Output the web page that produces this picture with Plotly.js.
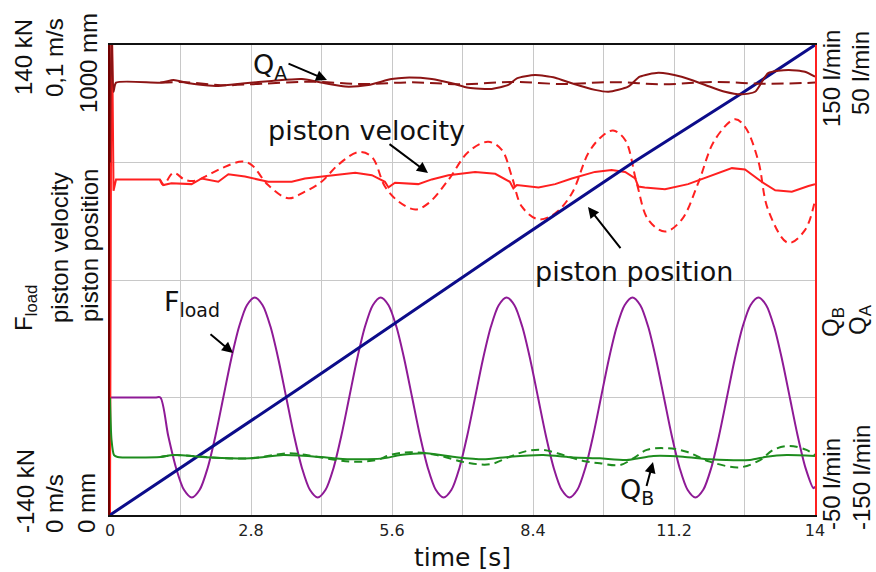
<!DOCTYPE html>
<html>
<head>
<meta charset="utf-8">
<script src="https://cdn.plot.ly/plotly-3.0.1.min.js"></script>
<style>html,body{margin:0;padding:0;background:#fff;}#chart{width:876px;height:572px;}</style>
</head>
<body>
<div id="chart"></div>
<script>
// ---- data ----
var xTickVals = [0, 2.8, 5.6, 8.4, 11.2, 14];
var xTickText = ['0', '2.8', '5.6', '8.4', '11.2', '14'];

// piston position [mm]
var tPos = [0, 3.77, 7.84, 10.37, 12.54, 14];
var posMM = [0, 270, 567, 749, 897, 1000];

// load force [kN]
var tF = [0, 0.9, 1.0,
  1.156, 1.313, 1.469, 1.625, 1.781, 1.938, 2.094, 2.25, 2.406, 2.563, 2.719, 2.875, 3.031, 3.188, 3.344, 3.5,
  3.656, 3.813, 3.969, 4.125, 4.281, 4.438, 4.594, 4.75, 4.906, 5.063, 5.219, 5.375, 5.531, 5.688, 5.844, 6.0,
  6.156, 6.313, 6.469, 6.625, 6.781, 6.938, 7.094, 7.25, 7.406, 7.563, 7.719, 7.875, 8.031, 8.188, 8.344, 8.5,
  8.656, 8.813, 8.969, 9.125, 9.281, 9.438, 9.594, 9.75, 9.906, 10.063, 10.219, 10.375, 10.531, 10.688, 10.844, 11.0,
  11.156, 11.313, 11.469, 11.625, 11.781, 11.938, 12.094, 12.25, 12.406, 12.563, 12.719, 12.875, 13.031, 13.188, 13.344, 13.5,
  13.656, 13.813, 13.969, 14.0];
var fLoad = [-70, -70, -70,
  -92.8, -112.1, -125, -129.6, -125, -112.1, -92.8, -70, -47.2, -27.9, -15, -10.4, -15, -27.9, -47.2, -70,
  -92.8, -112.1, -125, -129.6, -125, -112.1, -92.8, -70, -47.2, -27.9, -15, -10.4, -15, -27.9, -47.2, -70,
  -92.8, -112.1, -125, -129.6, -125, -112.1, -92.8, -70, -47.2, -27.9, -15, -10.4, -15, -27.9, -47.2, -70,
  -92.8, -112.1, -125, -129.6, -125, -112.1, -92.8, -70, -47.2, -27.9, -15, -10.4, -15, -27.9, -47.2, -70,
  -92.8, -112.1, -125, -129.6, -125, -112.1, -92.8, -70, -47.2, -27.9, -15, -10.4, -15, -27.9, -47.2, -70,
  -92.8, -112.1, -124, -123];

// piston velocity [m/s], solid
var tVel = [0, 0.03, 0.07, 0.12, 0.99, 1.06, 1.22, 1.62, 1.82, 2.15, 2.35, 2.68, 3.14, 3.61, 3.87, 4.20, 4.53, 4.87, 5.20, 5.46, 5.53, 5.66, 6.12, 6.39, 6.72, 7.05, 7.25, 7.65, 7.94, 8.01, 8.08, 8.51, 8.84, 9.17, 9.63, 9.96, 10.23, 10.43, 10.49, 10.62, 11.02, 11.48, 11.88, 12.35, 12.61, 12.94, 13.21, 13.54, 13.87, 14.0];
var vel = [0, 0.115, 0.069, 0.0714, 0.0714, 0.0702, 0.0706, 0.0704, 0.0716, 0.0709, 0.0725, 0.0720, 0.0709, 0.0709, 0.0716, 0.0720, 0.0723, 0.0728, 0.0723, 0.0709, 0.0697, 0.0707, 0.0704, 0.0714, 0.0723, 0.0727, 0.0730, 0.0726, 0.0709, 0.0695, 0.0702, 0.0697, 0.0704, 0.0716, 0.0730, 0.0734, 0.0730, 0.0716, 0.0699, 0.0697, 0.0693, 0.0704, 0.0720, 0.0738, 0.0735, 0.0709, 0.0691, 0.0688, 0.0700, 0.0704];

// piston velocity [m/s], dashed
var tVelD = [0.99, 1.06, 1.26, 1.49, 1.69, 1.89, 2.22, 2.62, 2.81, 3.14, 3.54, 3.87, 4.20, 4.53, 4.93, 5.20, 5.46, 5.73, 6.06, 6.32, 6.72, 7.12, 7.51, 7.78, 7.98, 8.18, 8.51, 8.84, 9.17, 9.50, 9.76, 9.99, 10.23, 10.46, 10.69, 11.02, 11.35, 11.68, 12.01, 12.41, 12.61, 12.87, 13.07, 13.47, 13.80, 14.0];
var velD = [0.0714, 0.0702, 0.0728, 0.0713, 0.0711, 0.0720, 0.0738, 0.0752, 0.0745, 0.0702, 0.0674, 0.0688, 0.0709, 0.0745, 0.0772, 0.0762, 0.0699, 0.0667, 0.0650, 0.0663, 0.0713, 0.0773, 0.0794, 0.0777, 0.0720, 0.0656, 0.0629, 0.0642, 0.0684, 0.0770, 0.0805, 0.0818, 0.0798, 0.0706, 0.0628, 0.0603, 0.0628, 0.0706, 0.0798, 0.0842, 0.0826, 0.0755, 0.0649, 0.0579, 0.0606, 0.0670];

// Q_A [l/min], solid
var tQA = [0, 0.03, 0.07, 0.12, 1.03, 1.26, 1.56, 2.15, 2.68, 3.21, 3.81, 4.27, 4.67, 5.13, 5.59, 5.86, 6.39, 6.79, 7.12, 7.58, 7.91, 8.08, 8.44, 8.84, 9.17, 9.63, 9.90, 10.29, 10.52, 10.89, 11.35, 11.82, 12.21, 12.54, 12.81, 13.07, 13.47, 13.80, 14.0];
var qA = [0, 60, 30, 34.0, 34.0, 35.1, 33.7, 32.6, 33.7, 34.7, 35.5, 33.7, 32.3, 33.0, 35.5, 36.1, 35.5, 33.7, 31.8, 31.3, 33.0, 35.8, 37.2, 36.1, 33.7, 30.9, 30.1, 32.3, 36.5, 38.2, 36.5, 33.0, 30.1, 29.0, 30.1, 38.0, 39.4, 38.6, 36.5];

// Q_A [l/min], dashed
var tQAD = [1.0, 1.5, 2.2, 3.0, 4.0, 5.0, 6.0, 7.0, 8.0, 9.0, 10.0, 11.0, 12.0, 13.0, 14.0];
var qAD = [34.0, 34.2, 32.9, 33.5, 34.4, 33.4, 34.1, 33.3, 34.3, 33.4, 34.2, 33.3, 34.3, 33.5, 34.0];

// Q_B [l/min], solid
var tQB = [0, 0.03, 0.08, 0.15, 1.0, 1.26, 2.0, 2.78, 3.44, 4.10, 4.77, 5.43, 5.76, 6.29, 6.88, 7.41, 7.94, 8.60, 9.2, 9.73, 10.26, 10.79, 11.38, 11.91, 12.71, 13.04, 13.44, 14.0];
var qB = [0, -18, -24.5, -25.3, -25.3, -24.5, -25.5, -25.9, -24.5, -25.2, -26.3, -25.9, -24.5, -23.7, -25.4, -26.3, -25.2, -24.5, -25.5, -25.9, -26.6, -24.9, -25.2, -26.3, -26.6, -25.2, -24.5, -24.9];

// Q_B [l/min], dashed
var tQBD = [1.0, 1.3, 2.0, 2.78, 3.57, 4.10, 4.77, 5.30, 5.56, 5.96, 6.49, 7.08, 7.55, 7.94, 8.27, 8.60, 9.0, 9.4, 9.73, 10.13, 10.39, 10.66, 11.06, 11.45, 11.91, 12.51, 12.91, 13.17, 13.50, 13.83, 14.0];
var qBD = [-25.3, -24.5, -25.5, -25.9, -23.7, -25.2, -27.3, -26.6, -24.5, -23.3, -24.5, -27.7, -28.4, -25.2, -22.8, -22.3, -24.5, -27.0, -28.0, -28.7, -25.9, -22.3, -21.6, -23.1, -27.3, -29.7, -26.6, -22.3, -20.6, -22.3, -24.5];

// ---- styling ----
var C_QA = '#8c1414', C_VEL = '#ff2020', C_POS = '#0c0c8a', C_F = '#8e1a96', C_QB = '#1e8c1e';

var traces = [
  {x: tQBD, y: qBD, yaxis: 'y4', mode: 'lines', line: {color: C_QB, width: 2, dash: '8px,5px', shape: 'spline'}},
  {x: tQB, y: qB, yaxis: 'y4', mode: 'lines', line: {color: C_QB, width: 2, shape: 'spline', smoothing: 0.6}},
  {x: tQAD, y: qAD, yaxis: 'y5', mode: 'lines', line: {color: C_QA, width: 2, dash: '12px,6px', shape: 'spline'}},
  {x: tQA, y: qA, yaxis: 'y5', mode: 'lines', line: {color: C_QA, width: 2, shape: 'spline', smoothing: 0.6}},
  {x: tVelD, y: velD, yaxis: 'y2', mode: 'lines', line: {color: C_VEL, width: 2, dash: '8px,5px', shape: 'spline'}},
  {x: tVel, y: vel, yaxis: 'y2', mode: 'lines', line: {color: C_VEL, width: 2}},
  {x: tF, y: fLoad, yaxis: 'y', mode: 'lines', line: {color: C_F, width: 2, shape: 'spline', smoothing: 0.8}},
  {x: tPos, y: posMM, yaxis: 'y3', mode: 'lines', line: {color: C_POS, width: 3}}
];

// pixel -> paper helpers (plot area 110..815 x 45..515)
function px(x) { return (x - 110) / 705; }
function py(y) { return (515 - y) / 470; }

var LBL = {family: 'Liberation Sans, Arial, sans-serif', size: 24, color: '#111'};
var TXT = {family: 'DejaVu Sans, sans-serif', size: 27, color: '#111'};

function rot(text, x, y) {
  return {text: text, x: px(x), y: py(y), xref: 'paper', yref: 'paper', showarrow: false,
          textangle: -90, font: LBL, xanchor: 'center', yanchor: 'middle'};
}
function txt(text, x, y, size) {
  var f = {family: TXT.family, size: size || TXT.size, color: TXT.color};
  return {text: text, x: px(x), y: py(y), xref: 'paper', yref: 'paper', showarrow: false,
          font: f, xanchor: 'center', yanchor: 'middle'};
}
function arrow(hx, hy, tx, ty) {
  return {text: ' ', x: px(hx), y: py(hy), xref: 'paper', yref: 'paper', showarrow: true,
          ax: tx - hx, ay: ty - hy, arrowhead: 2, arrowsize: 1.1, arrowwidth: 2, arrowcolor: '#000',
          font: {size: 1}};
}

var annotations = [
  rot('140 kN', 23, 57), rot('0,1 m/s', 55, 58), rot('1000 mm', 88, 63),
  rot('-140 kN', 25, 491), rot('0 m/s', 54, 504), rot('0 mm', 86, 503),
  rot('F<sub>load</sub>', 25, 308), rot('piston velocity', 59, 248), rot('piston position', 89, 246),
  rot('150 l/min', 831, 79), rot('50 l/min', 861, 73),
  rot('-50 l/min', 831, 484), rot('-150 l/min', 861, 478),
  rot('Q<sub>B</sub>', 832, 322), rot('Q<sub>A</sub>', 859, 320),
  txt('Q<sub>A</sub>', 270, 66, 27),
  txt('piston velocity', 366, 130),
  txt('piston position', 634, 271),
  txt('F<sub>load</sub>', 192, 303, 27),
  txt('Q<sub>B</sub>', 637, 491, 27),
  arrow(327, 80, 287, 63),
  arrow(428, 173, 388, 143),
  arrow(588, 207, 622, 250),
  arrow(233, 353, 209, 333),
  arrow(653, 462, 646, 488)
];

var layout = {
  width: 876, height: 572,
  margin: {l: 110, r: 61, t: 45, b: 57},
  paper_bgcolor: '#fff', plot_bgcolor: '#fff',
  showlegend: false,
  xaxis: {
    range: [0, 14], tickmode: 'array', tickvals: xTickVals, ticktext: xTickText,
    showgrid: true, gridcolor: '#c8c8c8', gridwidth: 1, zeroline: false,
    minor: {tickmode: 'linear', tick0: 0, dtick: 1.4, showgrid: true, gridcolor: '#c8c8c8', gridwidth: 1, ticks: ''},
    ticks: '', showline: true, linecolor: '#111', linewidth: 2, mirror: true,
    tickfont: {family: 'DejaVu Sans, sans-serif', size: 16, color: '#222'},
    title: {text: 'time [s]', font: {family: 'DejaVu Sans, sans-serif', size: 25, color: '#111'}, standoff: 10}
  },
  yaxis: {
    range: [-140, 140], tickmode: 'linear', tick0: -140, dtick: 70,
    showgrid: true, gridcolor: '#c8c8c8', gridwidth: 1, zeroline: false,
    showticklabels: false, ticks: '', showline: true, linecolor: '#700000', linewidth: 2
  },
  yaxis2: {overlaying: 'y', range: [0, 0.1], visible: false},
  yaxis3: {overlaying: 'y', range: [0, 1000], visible: false},
  yaxis4: {overlaying: 'y', side: 'right', range: [-50, 150], showgrid: false, zeroline: false,
           showticklabels: false, ticks: '', showline: true, linecolor: C_VEL, linewidth: 2},
  yaxis5: {overlaying: 'y', side: 'right', range: [-150, 50], visible: false},
  annotations: annotations
};

Plotly.newPlot('chart', traces, layout, {staticPlot: true, displayModeBar: false});
</script>
</body>
</html>
